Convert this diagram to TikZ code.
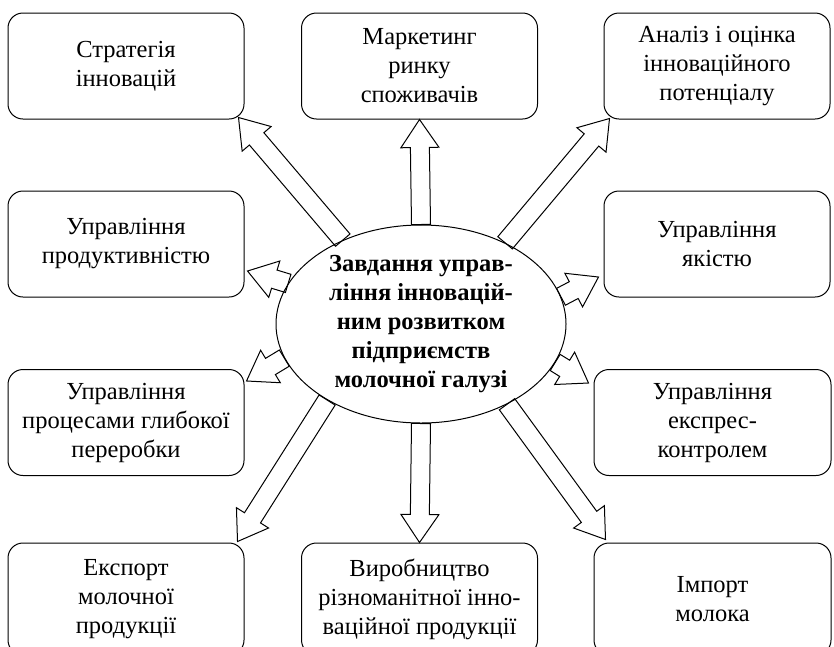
\documentclass[tikz,border=0pt]{standalone}
\usepackage{fontspec}
\setmainfont{Liberation Serif}
\usetikzlibrary{calc,shapes.geometric}
\newcommand{\shaftw}{9.5}
\newcommand{\headw}{19}
\newcommand{\headl}{28}
\newcommand{\bigfont}{\fontsize{24.5}{29}\selectfont}
% hollow block arrow from #1 (tail) to #2 (tip)
\newcommand{\fatarrow}[2]{%
  \draw[blockline] let \p1=($(#2)-(#1)$), \n1={atan2(\y1,\x1)}, \n2={veclen(\x1,\y1)} in
    [shift={(#1)},rotate=\n1]
    (0,-\shaftw) -- (\n2-\headl,-\shaftw) -- (\n2-\headl,-\headw) -- (\n2,0)
    -- (\n2-\headl,\headw) -- (\n2-\headl,\shaftw) -- (0,\shaftw) -- cycle;}
\tikzset{
  taskbox/.style={draw,line width=1pt,rounded corners=15pt,minimum width=236pt,
    minimum height=106pt,align=center,inner sep=0pt},
  hub/.style={draw,line width=1pt,ellipse,minimum width=290pt,minimum height=198pt,
    align=center,inner sep=0pt,font=\bigfont\bfseries},
  blockline/.style={line width=1pt,line join=miter},
}

\begin{document}
\begin{tikzpicture}[x=1pt,y=1pt,font=\bigfont]
  \useasboundingbox (0,0) rectangle (834,-646);
  % ---------------- centre ----------------
  \node[hub] (ctr) at (421,-324)
    {Завдання управ-\\ління інновацій-\\ним розвитком\\підприємств\\молочної галузі};
  % ---------------- boxes ----------------
  \node[taskbox] (strat) at (126,-66) {Стратегія\\інновацій};
  \node[taskbox] (mark) at (419.5,-66) {Маркетинг\\ринку\\споживачів};
  \node[taskbox,minimum width=226pt] (anal) at (717,-66) {Аналіз і оцінка\\інноваційного\\потенціалу};
  \node[taskbox] (prod) at (126,-244) {Управління\\продуктивністю};
  \node[taskbox,minimum width=226pt] (qual) at (717,-244) {Управління\\якістю};
  \node[taskbox] (proc) at (126,-422.5) {Управління\\процесами глибокої\\переробки};
  \node[taskbox,minimum width=237pt] (expr) at (712.5,-422.5) {Управління\\експрес-\\контролем};
  \node[taskbox,minimum height=112pt] (expo) at (126,-599) {Експорт\\молочної\\продукції};
  \node[taskbox,minimum height=112pt] (make) at (419.5,-599) {Виробництво\\різноманітної інно-\\ваційної продукції};
  \node[taskbox,minimum width=237pt,minimum height=112pt] (impo) at (712.5,-599) {Імпорт\\молока};
  % ---------------- arrow tips ----------------
  \coordinate (t1) at ($(strat.south east)+(-6,2)$);
  \coordinate (t2) at (mark.south);
  \coordinate (t3) at ($(anal.south west)+(6,1)$);
  \coordinate (t4) at ($(prod.east)+(3,-27)$);
  \coordinate (t5) at ($(qual.west)+(-5,-33)$);
  \coordinate (t6) at ($(proc.north east)+(2,-12)$);
  \coordinate (t7) at ($(expr.north west)+(-5,-14)$);
  \coordinate (t8) at ($(expo.north east)+(-7,1)$);
  \coordinate (t9) at (make.north);
  \coordinate (t10) at ($(impo.north west)+(12,3)$);
  % ---------------- arrows ----------------
  \fatarrow{ctr.133}{t1}
  \fatarrow{ctr.north}{t2}
  \fatarrow{ctr.44}{t3}
  \fatarrow{ctr.163}{t4}
  \fatarrow{ctr.11}{t5}
  \fatarrow{ctr.194}{t6}
  \fatarrow{ctr.344}{t7}
  \fatarrow{ctr.219}{t8}
  \fatarrow{ctr.south}{t9}
  \fatarrow{ctr.317}{t10}
\end{tikzpicture}
\end{document}
